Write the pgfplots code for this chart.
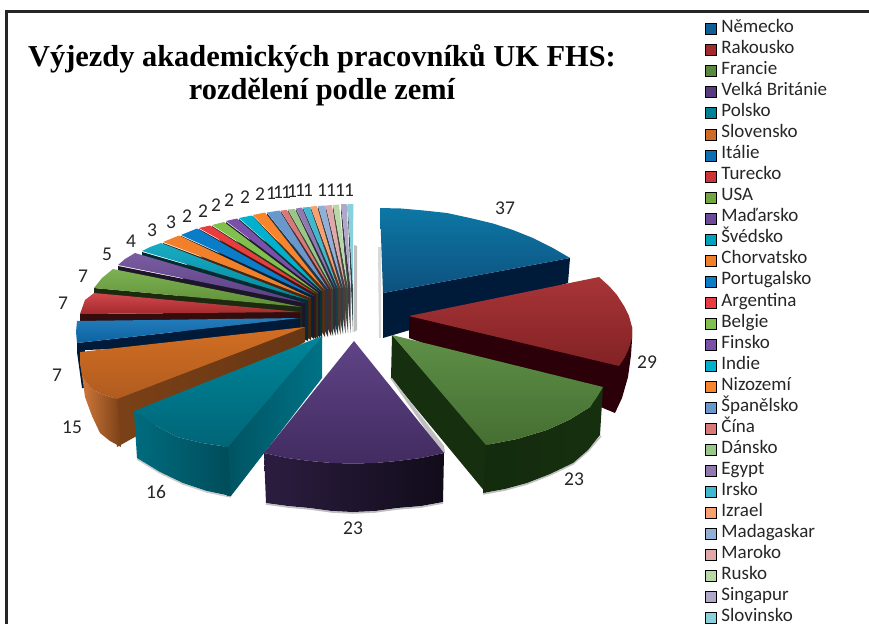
\documentclass[border=0pt]{standalone}
\usepackage{fontspec}
\setmainfont{Carlito}
\newfontfamily\titlefont{Liberation Serif}
\usepackage{pgfplots}
\pgfplotsset{compat=1.18}

% slice colours, legend order
\definecolor{c1}{HTML}{0F5F95}
\definecolor{c2}{HTML}{A32A2D}
\definecolor{c3}{HTML}{568A3E}
\definecolor{c4}{HTML}{573A80}
\definecolor{c5}{HTML}{007F95}
\definecolor{c6}{HTML}{CE6C26}
\definecolor{c7}{HTML}{0D6EB4}
\definecolor{c8}{HTML}{CC3438}
\definecolor{c9}{HTML}{6FA840}
\definecolor{c10}{HTML}{6C4A98}
\definecolor{c11}{HTML}{00A2BC}
\definecolor{c12}{HTML}{F2802A}
\definecolor{c13}{HTML}{0A7CC8}
\definecolor{c14}{HTML}{E83C40}
\definecolor{c15}{HTML}{80C04C}
\definecolor{c16}{HTML}{7A50A8}
\definecolor{c17}{HTML}{00B0CC}
\definecolor{c18}{HTML}{F8842C}
\definecolor{c19}{HTML}{6898CC}
\definecolor{c20}{HTML}{D87878}
\definecolor{c21}{HTML}{98C888}
\definecolor{c22}{HTML}{9078B0}
\definecolor{c23}{HTML}{40B8D0}
\definecolor{c24}{HTML}{F8A070}
\definecolor{c25}{HTML}{90B0D8}
\definecolor{c26}{HTML}{E0A8A8}
\definecolor{c27}{HTML}{B8D8A8}
\definecolor{c28}{HTML}{B0A8C8}
\definecolor{c29}{HTML}{88D0DC}
\definecolor{navy}{HTML}{001A3A}
\definecolor{maroon}{HTML}{2C0008}
\definecolor{dgreen}{HTML}{16300F}

\newcommand{\pg}[2]{\addplot[forget plot,draw=none,#1] coordinates {#2};}
\newcommand{\leg}[2]{\addlegendimage{fill=#1}\addlegendentry{\hspace*{5pt}#2}}

\begin{document}
\begin{tikzpicture}
\begin{axis}[
  scale only axis,
  width=869pt, height=624pt,
  xmin=0, xmax=869, ymin=0, ymax=624,
  y dir=reverse,
  axis lines=none,
  legend cell align=left,
  legend image code/.code={\fill[#1] (0pt,-5.5pt) rectangle (11pt,5.5pt);},
  legend style={
    at={(axis cs:705,20.5)}, anchor=north west,
    draw=none, fill=none, inner sep=0pt, outer sep=0pt,
    font=\fontsize{19}{19}\selectfont, text=black!85,
    row sep=4.04pt, column sep=0pt,
    nodes={inner sep=0pt, text height=12pt, text depth=5pt},
  },
]
% frame
\addplot[forget plot,draw=black!85,line width=3pt] coordinates {(869,11) (6.5,11) (6.5,624)};

% soft shadows
\pg{fill=black!25}{(354,245) (357,246) (357,330) (354,332)}
\pg{fill=black!15}{(378,247) (381,247) (381,338) (379,338)}

% right side: Nemecko, Rakousko, Francie
\pg{fill=navy}{(383,293) (570,258) (568,283) (383,338)}
\pg{top color=c1!85!cyan,bottom color=c1!85!black}{(380,208) (401,208.5) (424,210.5) (447,213) (470,218) (493,223.5) (513,230) (533,238) (552,247.5) (570,258) (383,293)}
\pg{fill=maroon}{(409,316) (632,327) (632,340) (631,355) (628,377) (622,398) (615,413) (603,408) (409,338)}
\pg{top color=c2!95!white,bottom color=c2!80!black}{(409,316) (599,277) (609,286) (617,295) (624,306) (629,316) (632,327) (632,338) (629,348) (625,357) (619,366)}
\addplot[forget plot,draw=black!25,line width=1.5pt] coordinates {(483,494) (505,490) (527,484) (550,475) (573,464) (588,451) (601,436)};
\pg{fill=dgreen}{(392,335) (489,445) (486,493) (391,378)}
\pg{left color=dgreen!90!black,right color=dgreen}{(486,445) (483,493) (505,489) (527,483) (550,474) (573,463) (588,450) (600,435) (603,387) (597,397) (590,407) (570,419.5) (547,430) (517,439)}
\pg{top color=c3!95!white,bottom color=c3!80!black}{(392,335) (603,387) (597,397) (590,407) (570,419.5) (547,430) (517,439) (486,445)}
\pg{fill=black!25}{(390,378) (392,378) (444,446) (445,453) (442,453)}

% the small slices at the back, right to left
\pg{fill=c29!35!black}{(347.7,205) (353,288) (353,332) (347.7,211)}
\pg{fill=c29}{(353.3,204) (347.7,204) (353,288)}
\pg{fill=c28!35!black}{(341,205) (350.5,288) (350.5,332.5) (341,211)}
\pg{fill=c28}{(346.7,204) (341,204) (350.5,288)}
\pg{fill=c27!35!black}{(333,205) (348,288) (348,333) (333,211)}
\pg{fill=c27}{(339,204.5) (333,205) (348,288)}
\pg{fill=c26!35!black}{(325.7,206) (345.5,288) (345.5,333.5) (325.7,212)}
\pg{fill=c26}{(332,205) (325.7,205.5) (345.5,288)}
\pg{fill=c25!35!black}{(318,206) (343,288) (343,334) (318,212)}
\pg{fill=c25}{(325,205.5) (318,206) (343,288)}
\pg{fill=c24!35!black}{(310.7,207) (340.5,288) (340.5,334.5) (310.7,213)}
\pg{fill=c24}{(317,206) (310.7,206.5) (340.5,288)}
\pg{fill=c23!35!black}{(303,208) (338,288.5) (338,335) (303,214)}
\pg{fill=c23}{(310,207) (303,207.5) (338,288.5)}
\pg{fill=c22!35!black}{(296,209) (335.5,288.5) (335.5,335.5) (296,215)}
\pg{fill=c22}{(302,207.5) (296,208.5) (335.5,288.5)}
\pg{fill=c21!35!black}{(288,210) (333,289) (333,336) (288,216)}
\pg{fill=c21}{(295,209) (288,209.5) (333,289)}
\pg{fill=c20!35!black}{(280.7,211) (331,289) (331,336) (280.7,217)}
\pg{fill=c20}{(287,210) (280.7,210.5) (331,289)}
\pg{fill=c19!35!black}{(267,213) (328,289) (328,337) (267,219)}
\pg{fill=c19}{(279.5,210.5) (267,212.5) (328,289)}
\pg{fill=c18!35!black}{(253,216) (325,290) (325,337) (253,222)}
\pg{fill=c18}{(265,212.5) (253,215) (325,290)}
\pg{fill=c17!30!black}{(239,219) (322,291) (322,338) (239,225)}
\pg{fill=c17}{(252,215.5) (239,218) (322,291)}
\pg{fill=c16!30!black}{(226,222) (320,292) (320,338) (226,228)}
\pg{fill=c16}{(237,218.5) (226,221) (320,292)}
\pg{fill=c15!30!black}{(212,226) (318,293) (318,339) (212,232)}
\pg{fill=c15}{(224,222) (212,225) (318,293)}
\pg{fill=c14!30!black}{(199,229) (316,294) (316,339) (199,235)}
\pg{fill=c14}{(210,225.5) (199,228) (316,294)}
\pg{fill=c13!30!black}{(181,236) (314,296) (314,339) (181,242)}
\pg{fill=c13}{(197,228.5) (181,235) (314,296)}
\pg{fill=c12!30!black}{(163,243) (311,298) (311,340) (163,250)}
\pg{fill=c12}{(179,235.5) (163,242) (311,298)}
\pg{fill=c11!28!black}{(142,252) (308,300) (308,341) (142,258)}
\pg{top color=c11!90!white,bottom color=c11!85!black}{(161,243) (150,247) (142,251) (308,300)}
\pg{fill=c10!28!black}{(118,266) (305,303) (305,341) (118,274)}
\pg{top color=c10!90!white,bottom color=c10!85!black}{(135,253) (125,259) (118,265) (305,303)}
\pg{fill=c9!25!black}{(94,288) (302,307) (302,342) (94,294)}
\pg{top color=c9!90!white,bottom color=c9!85!black}{(113,269) (102,278) (94,288) (302,307)}
\pg{fill=c8!25!black}{(80,314) (300,312) (300,343) (80,322)}
\pg{top color=c8!90!white,bottom color=c8!80!black}{(94,293) (85,300) (80,314) (300,312)}
\pg{fill=navy}{(77,343) (300,318) (300,343) (85,350) (84,388) (82,388) (77,352)}
\pg{top color=c7!90!white,bottom color=c7!90!black}{(77,321) (76,332) (77,343) (300,318)}

% Slovensko
\pg{left color=c6!60!black,right color=c6!50!black}{(305,327) (113,399) (117,447) (305,342)}
\pg{left color=c6!90!white,right color=c6!60!black}{(80,352) (82,375) (85,397) (92,416) (100,433) (110,441) (121,447) (117,399) (104,395) (93,390) (87,383)}
\pg{top color=c6!90!orange,bottom color=c6!85!black}{(305,327) (80,352) (80,364) (82,375) (87,383) (93,390) (104,395) (117,399)}

% Polsko
\addplot[forget plot,draw=black!20,line width=1.5pt] coordinates {(137,459) (160,473) (183,484) (207,492) (231,497)};
\pg{left color=c5!65!black,right color=c5!90!black}{(322,336) (224,447) (227,496) (231,496) (322,378)}
\pg{left color=c5!85!black,right color=c5!60!black}{(134,411) (137,458) (160,472) (183,483) (207,491) (231,496) (228,447) (202,443) (177,437) (155,425)}
\pg{top color=c5!95!cyan,bottom color=c5!80!black}{(322,336) (134,411) (155,425) (177,437) (202,443) (228,447)}

% Velka Britanie
\addplot[forget plot,draw=black!25,line width=1.5pt] coordinates {(266,504) (288,507) (310,509) (332,512) (353,513) (375,512) (397,509) (421,507) (443,503)};
\pg{left color=c4!50!black,right color=c4!20!black}{(264,453) (266,503) (288,506) (310,508) (332,511) (353,512) (375,511) (397,508) (421,506) (443,502) (444,453) (421,458) (397,461) (375,463) (353,463.5) (332,463) (310,461) (287,458)}
\pg{top color=c4!95!white,bottom color=c4!75!black}{(354,341) (264,453) (287,458) (310,461) (332,463) (353,463.5) (375,463) (397,461) (421,458) (444,453)}

% data labels
\addplot[forget plot,only marks,mark=none,
  nodes near coords,point meta=explicit symbolic,
  nodes near coords align={anchor=center},
  every node near coord/.append style={font=\fontsize{19.5}{19.5}\selectfont,text=black!85,inner sep=0pt},
] table[meta=v] {
x y v
505 208 37
647 362 29
574 479 23
353 528 23
156 492 16
72 427 15
57 375 7
63 303 7
83 276 7
107 254 5
131 241 4
152 230 3
171 222 3
187 216 2
203 211 2
216 205 2
229 200 2
245 197 2
260 194 2
271 193 1
278 192 1
286 192 1
292 191 1
300 190 1
308 190 1
322 190 1
331 190 1
340 190 1
349 190 1
};

\node[align=center,font=\titlefont\bfseries\fontsize{30.4}{33}\selectfont] at (axis cs:322,75)
  {Výjezdy akademických pracovníků UK FHS:\\rozdělení podle zemí};

\leg{c1}{Německo}
\leg{c2}{Rakousko}
\leg{c3}{Francie}
\leg{c4}{Velká Británie}
\leg{c5}{Polsko}
\leg{c6}{Slovensko}
\leg{c7}{Itálie}
\leg{c8}{Turecko}
\leg{c9}{USA}
\leg{c10}{Maďarsko}
\leg{c11}{Švédsko}
\leg{c12}{Chorvatsko}
\leg{c13}{Portugalsko}
\leg{c14}{Argentina}
\leg{c15}{Belgie}
\leg{c16}{Finsko}
\leg{c17}{Indie}
\leg{c18}{Nizozemí}
\leg{c19}{Španělsko}
\leg{c20}{Čína}
\leg{c21}{Dánsko}
\leg{c22}{Egypt}
\leg{c23}{Irsko}
\leg{c24}{Izrael}
\leg{c25}{Madagaskar}
\leg{c26}{Maroko}
\leg{c27}{Rusko}
\leg{c28}{Singapur}
\leg{c29}{Slovinsko}
\end{axis}
\pgfresetboundingbox
\path[use as bounding box] (0,0) rectangle (869pt,624pt);
\end{tikzpicture}
\end{document}
